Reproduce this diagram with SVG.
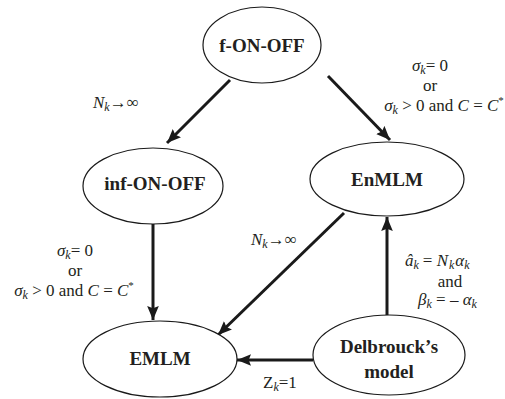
<svg xmlns="http://www.w3.org/2000/svg" width="505" height="399" viewBox="0 0 505 399">
<defs>
<marker id="ah2" viewBox="0 0 12 10" refX="12" refY="5" markerWidth="14" markerHeight="12" markerUnits="userSpaceOnUse" orient="auto">
<path d="M0,0 L12,5 L0,10 L2,5 Z" fill="#1a1a1a"/>
</marker>
<style>
.node ellipse{fill:#fff;stroke:#1a1a1a;stroke-width:1.2}
.nl{font-family:'Liberation Serif',serif;font-weight:bold;font-size:19px;fill:#231f20;text-anchor:middle}
.edge{stroke:#1a1a1a;stroke-width:3;fill:none;marker-end:url(#ah2)}
.lb{font-family:'Liberation Serif',serif;font-size:17px;fill:#231f20}
.c{text-anchor:middle}
.i{font-style:italic}
.s{font-size:12px;font-style:italic}
</style>
</defs>
<g id="connectors">
<line class="edge" x1="230" y1="80" x2="167" y2="143"/>
<line class="edge" x1="328" y1="76" x2="390" y2="140"/>
<line class="edge" x1="153" y1="224" x2="153" y2="320"/>
<line class="edge" x1="344" y1="213" x2="218" y2="335"/>
<line class="edge" x1="387" y1="315" x2="387" y2="217"/>
<line class="edge" x1="313" y1="360" x2="237" y2="360"/>
</g>
<g id="f-ON-OFF" class="node"><ellipse cx="262" cy="45" rx="59" ry="38"/><text class="nl" x="262" y="52">f-ON-OFF</text></g>
<g id="inf-ON-OFF" class="node"><ellipse cx="153" cy="186" rx="70" ry="38"/><text class="nl" x="155" y="190">inf-ON-OFF</text></g>
<g id="EnMLM" class="node"><ellipse cx="387" cy="179" rx="77" ry="37"/><text class="nl" x="387" y="186">EnMLM</text></g>
<g id="EMLM" class="node"><ellipse cx="160" cy="359" rx="77" ry="38"/><text class="nl" x="160" y="365">EMLM</text></g>
<g id="Delbrouck" class="node"><ellipse cx="389" cy="355" rx="76" ry="40"/><text class="nl" x="389" y="353">Delbrouck’s</text><text class="nl" x="389" y="378">model</text></g>
<g id="labels">
<text class="lb" x="93" y="108"><tspan class="i">N</tspan><tspan class="s" dy="3">k</tspan><tspan dy="-3">→∞</tspan></text>
<text class="lb c" x="430" y="71"><tspan class="i">σ</tspan><tspan class="s" dy="3">k</tspan><tspan dy="-3">= 0</tspan></text>
<text class="lb c" x="430" y="91">or</text>
<text class="lb c" x="444" y="111"><tspan class="i">σ</tspan><tspan class="s" dy="3">k</tspan><tspan dy="-3"> &gt; 0 and </tspan><tspan class="i">C</tspan><tspan> = </tspan><tspan class="i">C</tspan><tspan font-size="11" dy="-7">*</tspan></text>
<text class="lb c" x="75" y="256"><tspan class="i">σ</tspan><tspan class="s" dy="3">k</tspan><tspan dy="-3">= 0</tspan></text>
<text class="lb c" x="75" y="276">or</text>
<text class="lb c" x="74" y="296"><tspan class="i">σ</tspan><tspan class="s" dy="3">k</tspan><tspan dy="-3"> &gt; 0 and </tspan><tspan class="i">C</tspan><tspan> = </tspan><tspan class="i">C</tspan><tspan font-size="11" dy="-7">*</tspan></text>
<text class="lb" x="251" y="245"><tspan class="i">N</tspan><tspan class="s" dy="3">k</tspan><tspan dy="-3">→∞</tspan></text>
<text class="lb" x="405" y="266"><tspan class="i">â</tspan><tspan class="s" dy="3">k</tspan><tspan dy="-3" dx="4">= </tspan><tspan class="i">N</tspan><tspan class="s" dy="3" dx="1">k</tspan><tspan class="i" dy="-3" dx="1">α</tspan><tspan class="s" dy="3">k</tspan></text>
<text class="lb c" x="450" y="287">and</text>
<text class="lb" x="418" y="305"><tspan class="i">β</tspan><tspan class="s" dy="3">k</tspan><tspan dy="-3"> = </tspan><tspan>– </tspan><tspan class="i">α</tspan><tspan class="s" dy="3">k</tspan></text>
<text class="lb" x="263" y="388"><tspan>Z</tspan><tspan class="s" dy="3">k</tspan><tspan dy="-3">=1</tspan></text>
</g>
</svg>
